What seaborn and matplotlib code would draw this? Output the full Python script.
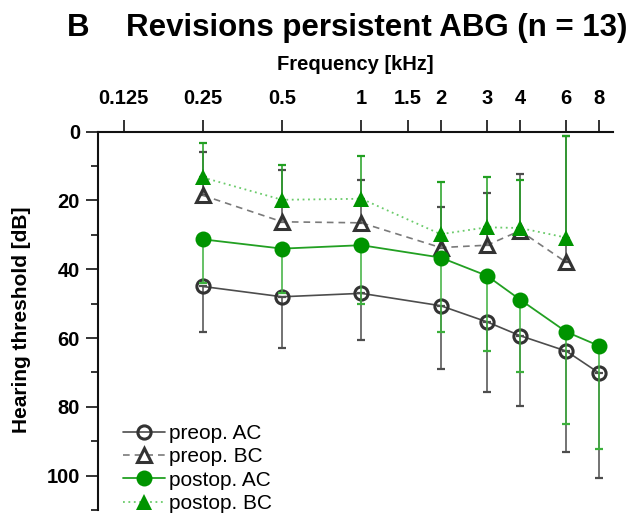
import matplotlib
matplotlib.use("Agg")
import matplotlib.pyplot as plt
import seaborn as sns
import pandas as pd
from matplotlib.ticker import FixedLocator, NullLocator

# ---------------- data ----------------
freqs_ac = [0.25, 0.5, 1, 2, 3, 4, 6, 8]
freqs_bc = [0.25, 0.5, 1, 2, 3, 4, 6]

preop_ac = [45.0, 48.0, 47.0, 50.6, 55.3, 59.3, 63.8, 70.2]
preop_ac_sd = [13.2, 14.8, 13.7, 18.3, 20.3, 20.6, 29.4, 30.4]

postop_ac = [31.3, 34.0, 33.0, 36.6, 41.9, 48.8, 58.2, 62.3]
postop_ac_sd = [12.7, 13.0, 17.0, 21.6, 21.9, 21.1, 26.9, 29.9]

preop_bc = [18.5, 26.2, 26.5, 33.7, 33.0, 28.8, 38.0]
preop_bc_sd = [12.7, 15.0, 12.6, 11.9, 15.2, 16.4, 36.7]

postop_bc = [13.3, 19.8, 19.5, 29.8, 27.8, 28.0, 30.8]
postop_bc_sd = [9.9, 10.1, 12.5, 15.1, 14.6, 13.9, 29.5]

tick_freqs = [0.125, 0.25, 0.5, 1, 1.5, 2, 3, 4, 6, 8]
tick_labels = ["0.125", "0.25", "0.5", "1", "1.5", "2", "3", "4", "6", "8"]
y_major = [0, 20, 40, 60, 80, 100]
y_minor = [10, 30, 50, 70, 90, 110]

series_names = ["preop. AC", "preop. BC", "postop. AC", "postop. BC"]

# ---------------- style ----------------
sns.set_theme(style="ticks")
plt.rcParams["font.family"] = ["Liberation Sans", "DejaVu Sans"]
for k in ["text.color", "axes.labelcolor", "xtick.color", "ytick.color"]:
    plt.rcParams[k] = "black"

DARK = "#333333"
GRAY_LINE = "#4d4d4d"
GRAY_DASH = "#7a7a7a"
GREEN = "#009400"
GREEN_LINE = "#22a022"
GREEN_DOT = "#6acb6a"
GREEN_ERR = "#3cb03c"

fig = plt.figure(figsize=(6.4, 5.13), dpi=100)
ax = fig.add_axes([98 / 640, 3 / 513, (612.7 - 98) / 640, (510 - 131.7) / 513])

df_pre_ac = pd.DataFrame({"f": freqs_ac, "db": preop_ac})
df_post_ac = pd.DataFrame({"f": freqs_ac, "db": postop_ac})
df_pre_bc = pd.DataFrame({"f": freqs_bc, "db": preop_bc})
df_post_bc = pd.DataFrame({"f": freqs_bc, "db": postop_bc})


def zeros(n):
    return [0] * n


CAP = 3.0
# error bars: AC downward (+SD), BC upward (-SD)
ax.errorbar(freqs_ac, preop_ac, yerr=[zeros(len(freqs_ac)), preop_ac_sd], fmt="none",
            ecolor=GRAY_LINE, elinewidth=1.1, capsize=CAP, capthick=1.6, zorder=2, clip_on=False)
ax.errorbar(freqs_bc, preop_bc, yerr=[preop_bc_sd, zeros(len(freqs_bc))], fmt="none",
            ecolor=GRAY_LINE, elinewidth=1.1, capsize=CAP, capthick=1.6, zorder=2, clip_on=False)

sns.lineplot(data=df_pre_ac, x="f", y="db", ax=ax, color=GRAY_LINE, lw=1.2,
             marker="o", markersize=9.5, markerfacecolor="none",
             markeredgecolor=DARK, markeredgewidth=2.2, label=series_names[0],
             zorder=3, clip_on=False)
sns.lineplot(data=df_pre_bc, x="f", y="db", ax=ax, color=GRAY_DASH, lw=1.2,
             linestyle=(0, (4, 3)), marker="^", markersize=10.5, markerfacecolor="none",
             markeredgecolor=DARK, markeredgewidth=2.2, label=series_names[1],
             zorder=3, clip_on=False)

ax.errorbar(freqs_ac, postop_ac, yerr=[zeros(len(freqs_ac)), postop_ac_sd], fmt="none",
            ecolor=GREEN_ERR, elinewidth=1.1, capsize=CAP, capthick=1.6, zorder=4, clip_on=False)
ax.errorbar(freqs_bc, postop_bc, yerr=[postop_bc_sd, zeros(len(freqs_bc))], fmt="none",
            ecolor=GREEN_LINE, elinewidth=1.1, capsize=CAP, capthick=1.6, zorder=4, clip_on=False)

sns.lineplot(data=df_post_ac, x="f", y="db", ax=ax, color=GREEN_LINE, lw=1.3,
             marker="o", markersize=11.5, markerfacecolor=GREEN,
             markeredgecolor=GREEN, markeredgewidth=0, label=series_names[2],
             zorder=5, clip_on=False)
sns.lineplot(data=df_post_bc, x="f", y="db", ax=ax, color=GREEN_DOT, lw=1.3,
             linestyle=(0, (1, 2)), marker="^", markersize=12, markerfacecolor=GREEN,
             markeredgecolor=GREEN, markeredgewidth=0, label=series_names[3],
             zorder=5, clip_on=False)

# ---------------- axes ----------------
ax.set_xscale("log", base=2)
ax.set_xlim(0.1, 9)
ax.set_ylim(110, 0)
ax.xaxis.set_major_locator(FixedLocator(tick_freqs))
ax.xaxis.set_minor_locator(NullLocator())
ax.set_xticklabels(tick_labels)
ax.xaxis.tick_top()
ax.yaxis.set_major_locator(FixedLocator(y_major))
ax.yaxis.set_minor_locator(FixedLocator(y_minor))
ax.set_yticklabels([str(v) for v in y_major])
ax.set_xlabel("")
ax.set_ylabel("")

for s in ["bottom", "right"]:
    ax.spines[s].set_visible(False)
for s in ["top", "left"]:
    ax.spines[s].set_linewidth(1.5)
    ax.spines[s].set_color("#111111")

ax.tick_params(axis="x", which="major", direction="out", length=9, width=1.2,
               color="#111111", pad=8, labelsize=14.5, labelcolor="black")
ax.tick_params(axis="y", which="major", direction="out", length=9, width=1.2,
               color="#111111", pad=4, labelsize=14.5, labelcolor="black")
ax.tick_params(axis="y", which="minor", direction="out", length=5, width=1.2,
               color="#111111")
for lab in ax.get_xticklabels() + ax.get_yticklabels():
    lab.set_fontweight("bold")

# texts
fig.text(67 / 640, 1 - 36 / 513, "B", fontsize=22.5, fontweight="bold", ha="left",
         va="baseline", color="black")
fig.text(377 / 640, 1 - 36 / 513, "Revisions persistent ABG (n = 13)", fontsize=22.5,
         fontweight="bold", ha="center", va="baseline", color="black")
fig.text(355 / 640, 1 - 70 / 513, "Frequency [kHz]", fontsize=14.5, fontweight="bold",
         ha="center", va="baseline", color="black")
fig.text(22 / 640, 1 - 320 / 513, "Hearing threshold [dB]", fontsize=15, fontweight="bold",
         ha="center", va="center", rotation=90, color="black")

handles, labels = ax.get_legend_handles_labels()
leg = ax.legend(handles, labels, loc="upper left", bbox_to_anchor=(123 / 640, 1 - 424 / 513),
                bbox_transform=fig.transFigure, frameon=False, fontsize=15, borderpad=0,
                borderaxespad=0, handletextpad=0.2, handlelength=2.0, labelspacing=0.21,
                numpoints=1)
for t in leg.get_texts():
    t.set_color("black")

fig.savefig("out.png", dpi=100)
